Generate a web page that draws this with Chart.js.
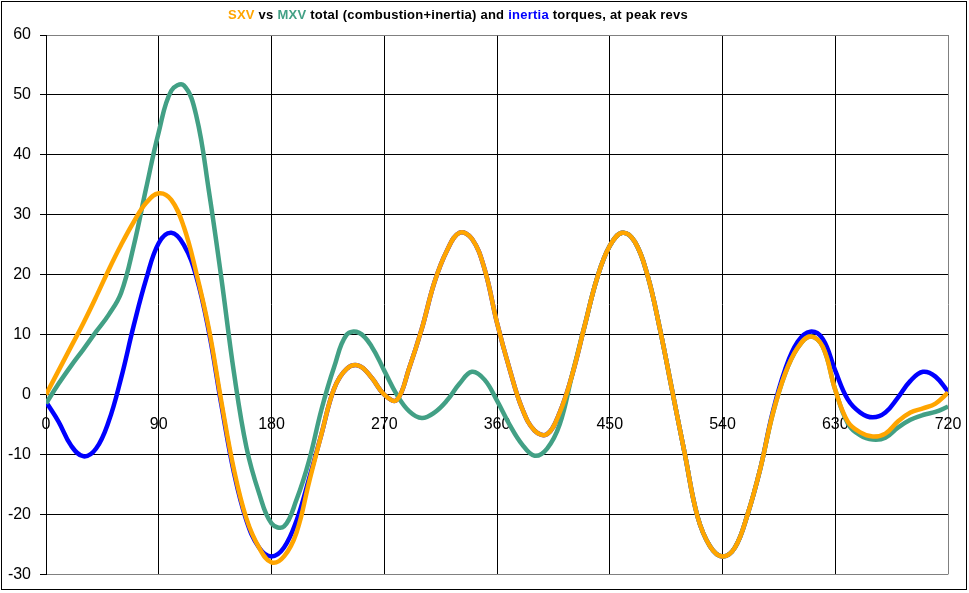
<!DOCTYPE html>
<html>
<head>
<meta charset="utf-8">
<script src="https://cdn.jsdelivr.net/npm/chart.js@4"></script>
<style>
  html, body { margin: 0; padding: 0; background: #fff; }
  #wrap { width: 969px; height: 593px; }
</style>
</head>
<body>
<div id="wrap"><canvas id="torque-chart" width="969" height="593"></canvas></div>
<script>
// crank angle [deg]
const angles = [0, 10, 20, 30, 40, 50, 60, 70, 80, 90, 100, 110, 120, 130, 140, 150, 160, 170, 180,
    190, 200, 210, 220, 230, 240, 250, 260, 270, 280, 290, 300, 310, 320, 330, 340, 350, 360,
    370, 380, 390, 400, 410, 420, 430, 440, 450, 460, 470, 480, 490, 500, 510, 520, 530, 540,
    550, 560, 570, 580, 590, 600, 610, 620, 630, 640, 650, 660, 670, 680, 690, 700, 710, 720];

const sxvTotal = [0, 4, 8, 12, 16.3, 20.8, 25, 28.8, 32, 33.6, 32.5, 28, 20.3, 11, -1.2, -12.5, -20.7, -25.5, -28,
    -27, -23, -14.6, -6.5, 1, 4.3, 4.8, 2.8, 0, -0.9, 4.5, 11, 18.7, 24, 27, 26, 21, 12,
    4.3, -2.3, -6, -6.6, -3, 3.3, 11.5, 19.5, 24.8, 27, 25.5, 20, 11, 0.5, -10, -20.3, -25.3, -27,
    -25.5, -20, -12.5, -3.3, 3.5, 7.8, 9.7, 8, 0.8, -4.5, -6.3, -7, -6.5, -4.5, -3, -2.3, -1.5, 0.3];

const mxvTotal = [-1.5, 1.8, 4.8, 7.6, 10.5, 13.3, 17, 24.8, 34.5, 43.8, 50.7, 51.6, 46.5, 34, 19.4, 3.7, -8.8, -16.4, -21.5,
    -22, -17.5, -11, -2.4, 4.6, 10, 10.3, 8, 4, 0, -2.8, -3.9, -3, -1, 1.8, 3.8, 2.5, -1,
    -5, -8.3, -10.2, -9, -5, 3.3, 11.5, 19.5, 24.8, 27, 25.5, 20, 11, 0.5, -10, -20.3, -25.3, -27,
    -25.5, -20, -12.5, -3.3, 3.5, 7.8, 9.7, 8, 0.8, -4.8, -6.8, -7.5, -7.2, -5.5, -4.2, -3.4, -2.9, -2];

const inertia = [-1.2, -4.5, -8.5, -10.3, -9, -4.5, 2.8, 11.5, 19.3, 25.3, 27, 25, 19.7, 10.5, -1.7, -13, -21, -25.5, -27,
    -25.5, -21, -14, -6.5, 1, 4.3, 4.8, 2.8, 0, -0.9, 4.5, 11, 18.7, 24, 27, 26, 21, 12,
    4.3, -2.3, -6, -6.6, -3, 3.3, 11.5, 19.5, 24.8, 27, 25.5, 20, 11, 0.5, -10, -20.3, -25.3, -27,
    -25.5, -20, -12.5, -3, 4.2, 8.8, 10.5, 9.3, 4, -0.8, -3, -3.8, -3, -0.5, 2.3, 3.8, 3, 0.5];

const titleParts = [
    ['SXV', '#ffa500'],
    [' vs ', '#000000'],
    ['MXV', '#42a085'],
    [' total (combustion+inertia) and ', '#000000'],
    ['inertia', '#0000ff'],
    [' torques, at peak revs', '#000000']
];

const FONT = '"Liberation Sans", Arial, sans-serif';
const GREY = '#808080';

// coloured title + outer frame
const decoration = {
    id: 'decoration',
    afterDraw(chart) {
        const ctx = chart.ctx;
        ctx.save();
        ctx.strokeStyle = '#000';
        ctx.lineWidth = 1;
        ctx.strokeRect(1.5, 1.5, 965, 588);

        ctx.font = 'bold 13px ' + FONT;
        ctx.textBaseline = 'middle';
        ctx.textAlign = 'left';
        const text = titleParts.map(p => p[0]).join('');
        const natural = ctx.measureText(text).width;
        const spacing = Math.max(0, (460 - natural) / text.length);
        let x = 228;
        titleParts.forEach(p => {
            ctx.fillStyle = p[1];
            for (const ch of p[0]) {
                ctx.fillText(ch, x, 15);
                x += ctx.measureText(ch).width + spacing;
            }
        });
        ctx.restore();
    }
};

const chartElement = document.getElementById('torque-chart');
new Chart(chartElement, {
    type: 'line',
    data: {
        labels: angles,
        datasets: [{
            label: 'SXV',
            data: sxvTotal,
            borderColor: '#ffa500',
        },
        {
            label: 'MXV',
            data: mxvTotal,
            borderColor: '#42a085',
        },
        {
            label: 'inertia',
            data: inertia,
            borderColor: '#0000ff',
        }]
    },
    options: {
        responsive: false,
        animation: false,
        layout: { padding: { left: 0, top: 35, right: 21, bottom: 18 } },
        elements: {
            point: { radius: 0 },
            line: { borderWidth: 4.5, tension: 0.4, fill: false }
        },
        plugins: {
            legend: { display: false },
            tooltip: { enabled: false }
        },
        scales: {
            x: {
                type: 'linear',
                position: { y: 0 },
                min: 0,
                max: 720,
                afterFit: (scale) => { scale.paddingLeft = 0; scale.paddingRight = 0; },
                ticks: {
                    stepSize: 90,
                    padding: 20,
                    color: '#000',
                    maxRotation: 0,
                    font: { family: FONT, size: 16 }
                },
                grid: {
                    drawTicks: false,
                    color: (ctx) => ctx.tick && ctx.tick.value === 720 ? GREY : '#000',
                },
                border: { color: '#000' }
            },
            y: {
                min: -30,
                max: 60,
                afterFit: (scale) => { scale.width = 46; },
                ticks: {
                    stepSize: 10,
                    padding: 9,
                    color: '#000',
                    font: { family: FONT, size: 16 }
                },
                grid: {
                    tickLength: 6,
                    tickColor: '#000',
                    color: (ctx) => ctx.tick && (ctx.tick.value === 60 || ctx.tick.value === -30) ? GREY : '#000',
                },
                border: { color: '#000' }
            }
        }
    },
    plugins: [decoration]
});
</script>
</body>
</html>
